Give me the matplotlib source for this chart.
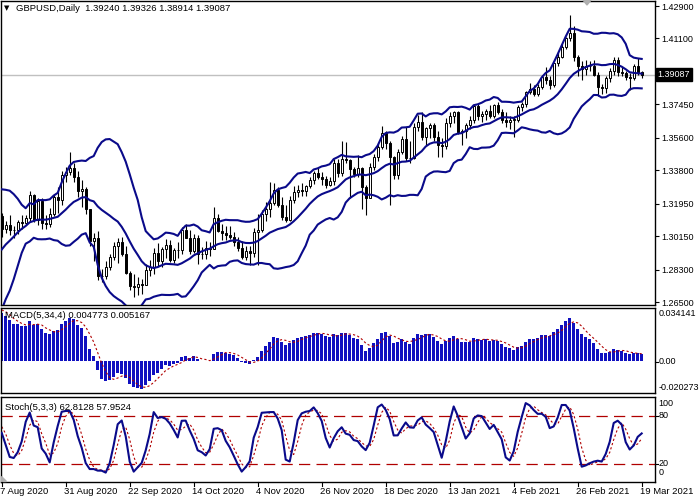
import numpy as np
import matplotlib
matplotlib.use("Agg")
import matplotlib.pyplot as plt

# ── price history before the visible window (needed to warm up the indicators)
warm_close = [1.2110, 1.2235, 1.2245, 1.2230, 1.2200, 1.2165, 1.2200, 1.2335, 1.2270, 1.2330,
              1.2345, 1.2490, 1.2565, 1.2590, 1.2560, 1.2665, 1.2730, 1.2740, 1.2750, 1.2590,
              1.2545, 1.2575, 1.2565, 1.2545, 1.2405, 1.2345, 1.2475, 1.2490, 1.2420, 1.2415,
              1.2335, 1.2315, 1.2395, 1.2475, 1.2475, 1.2485, 1.2475, 1.2545, 1.2605, 1.2610,
              1.2615, 1.2565, 1.2560, 1.2580, 1.2555, 1.2565, 1.2660, 1.2730, 1.2715, 1.2735,
              1.2790, 1.2880, 1.2940, 1.2995, 1.3095, 1.3095, 1.3075, 1.3080, 1.3140, 1.3125]
warm_high = [1.2885, 1.2950, 1.3000, 1.3105, 1.3170, 1.3105, 1.3110, 1.3185, 1.3185]
warm_low = [1.2765, 1.2855, 1.2910, 1.2975, 1.3055, 1.3005, 1.3030, 1.3070, 1.3105]

# ── visible daily bars, 7 Aug 2020 .. 19 Mar 2021
first_open = 1.3125
closes = [1.3055, 1.3074, 1.3049, 1.3048, 1.3094, 1.3087, 1.3118, 1.3243, 1.3103, 1.3211,
          1.3087, 1.3080, 1.3140, 1.3230, 1.3213, 1.3354, 1.3369, 1.3392, 1.3345, 1.3263,
          1.3277, 1.3163, 1.2986, 1.3005, 1.2795, 1.2794, 1.2845, 1.2902, 1.2962, 1.2985,
          1.2917, 1.2813, 1.2739, 1.2735, 1.2751, 1.2746, 1.2828, 1.2842, 1.2920, 1.2875,
          1.2943, 1.2967, 1.2883, 1.2938, 1.2940, 1.3049, 1.3006, 1.2930, 1.3006, 1.2917,
          1.2914, 1.2950, 1.2945, 1.3118, 1.3046, 1.3030, 1.3022, 1.3010, 1.2985, 1.2950,
          1.2900, 1.2935, 1.2920, 1.3040, 1.3050, 1.3140, 1.3165, 1.3200, 1.3270, 1.3190,
          1.3120, 1.3105, 1.3215, 1.3260, 1.3270, 1.3265, 1.3290, 1.3325, 1.3362, 1.3345,
          1.3330, 1.3300, 1.3320, 1.3418, 1.3363, 1.3440, 1.3434, 1.3386, 1.3359, 1.3390,
          1.3288, 1.3228, 1.3400, 1.3455, 1.3510, 1.3584, 1.3530, 1.3455, 1.3355, 1.3482,
          1.3551, 1.3448, 1.3450, 1.3622, 1.3650, 1.3565, 1.3615, 1.3630, 1.3565, 1.3520,
          1.3515, 1.3640, 1.3680, 1.3700, 1.3590, 1.3595, 1.3630, 1.3660, 1.3735, 1.3680,
          1.3690, 1.3710, 1.3680, 1.3740, 1.3705, 1.3660, 1.3650, 1.3660, 1.3660, 1.3733,
          1.3745, 1.3815, 1.3832, 1.3805, 1.3842, 1.3898, 1.3880, 1.3855, 1.3972, 1.4010,
          1.4065, 1.4110, 1.4138, 1.4010, 1.3955, 1.3940, 1.3960, 1.3955, 1.3910, 1.3840,
          1.3835, 1.3890, 1.3930, 1.3990, 1.3925, 1.3920, 1.3895, 1.3890, 1.3955, 1.3924,
          1.39087]
highs = [1.3143, 1.3100, 1.3132, 1.3072, 1.3105, 1.3131, 1.3130, 1.3267, 1.3251, 1.3225,
         1.3227, 1.3134, 1.3170, 1.3248, 1.3285, 1.3375, 1.3400, 1.3482, 1.3420, 1.3378,
         1.3325, 1.3285, 1.3165, 1.3033, 1.3045, 1.2835, 1.2875, 1.2918, 1.2983, 1.3007,
         1.3008, 1.2962, 1.2822, 1.2804, 1.2786, 1.2775, 1.2860, 1.2883, 1.2948, 1.2977,
         1.2955, 1.2998, 1.2993, 1.2949, 1.2981, 1.3063, 1.3082, 1.3051, 1.3026, 1.3022,
         1.2955, 1.2989, 1.2980, 1.3177, 1.3140, 1.3083, 1.3071, 1.3069, 1.3040, 1.3010,
         1.2990, 1.2960, 1.2960, 1.3060, 1.3140, 1.3160, 1.3205, 1.3313, 1.3312, 1.3285,
         1.3230, 1.3190, 1.3240, 1.3290, 1.3300, 1.3310, 1.3300, 1.3340, 1.3375, 1.3390,
         1.3370, 1.3350, 1.3340, 1.3440, 1.3440, 1.3540, 1.3539, 1.3440, 1.3400, 1.3467,
         1.3400, 1.3300, 1.3420, 1.3470, 1.3530, 1.3624, 1.3600, 1.3540, 1.3460, 1.3500,
         1.3570, 1.3620, 1.3540, 1.3640, 1.3686, 1.3700, 1.3620, 1.3640, 1.3640, 1.3600,
         1.3560, 1.3670, 1.3700, 1.3711, 1.3710, 1.3610, 1.3640, 1.3680, 1.3745, 1.3745,
         1.3710, 1.3720, 1.3740, 1.3745, 1.3760, 1.3720, 1.3700, 1.3680, 1.3680, 1.3740,
         1.3760, 1.3820, 1.3866, 1.3850, 1.3860, 1.3910, 1.3950, 1.3900, 1.3975, 1.4035,
         1.4080, 1.4120, 1.4241, 1.4180, 1.4020, 1.3985, 1.3990, 1.3985, 1.3990, 1.3925,
         1.3860, 1.3900, 1.3945, 1.4010, 1.4010, 1.3950, 1.3930, 1.3920, 1.3970, 1.4002,
         1.39326]
lows = [1.3010, 1.3035, 1.3020, 1.3005, 1.3028, 1.3056, 1.3076, 1.3095, 1.3095, 1.3075,
        1.3057, 1.3057, 1.3068, 1.3126, 1.3144, 1.3190, 1.3316, 1.3355, 1.3313, 1.3234,
        1.3174, 1.3138, 1.2960, 1.2875, 1.2770, 1.2762, 1.2780, 1.2830, 1.2880, 1.2866,
        1.2905, 1.2804, 1.2719, 1.2676, 1.2688, 1.2695, 1.2762, 1.2795, 1.2806, 1.2847,
        1.2846, 1.2893, 1.2874, 1.2865, 1.2893, 1.2917, 1.3003, 1.2914, 1.2921, 1.2863,
        1.2891, 1.2890, 1.2905, 1.2943, 1.3036, 1.2992, 1.2996, 1.3000, 1.2960, 1.2930,
        1.2890, 1.2880, 1.2855, 1.2900, 1.2855, 1.3040, 1.3100, 1.3120, 1.3190, 1.3175,
        1.3105, 1.3095, 1.3100, 1.3200, 1.3230, 1.3240, 1.3240, 1.3280, 1.3305, 1.3330,
        1.3300, 1.3280, 1.3290, 1.3300, 1.3340, 1.3350, 1.3420, 1.3226, 1.3340, 1.3340,
        1.3165, 1.3134, 1.3300, 1.3380, 1.3430, 1.3500, 1.3500, 1.3188, 1.3330, 1.3330,
        1.3470, 1.3430, 1.3420, 1.3440, 1.3600, 1.3550, 1.3520, 1.3560, 1.3540, 1.3455,
        1.3455, 1.3500, 1.3620, 1.3640, 1.3580, 1.3520, 1.3560, 1.3610, 1.3640, 1.3660,
        1.3650, 1.3660, 1.3670, 1.3670, 1.3690, 1.3640, 1.3620, 1.3610, 1.3566, 1.3650,
        1.3710, 1.3730, 1.3800, 1.3790, 1.3790, 1.3830, 1.3860, 1.3830, 1.3840, 1.3960,
        1.4000, 1.4050, 1.4095, 1.3985, 1.3900, 1.3880, 1.3910, 1.3930, 1.3900, 1.3790,
        1.3800, 1.3810, 1.3870, 1.3910, 1.3900, 1.3900, 1.3880, 1.3825, 1.3880, 1.3910,
        1.38914]

date_labels = ["7 Aug 2020", "31 Aug 2020", "22 Sep 2020", "14 Oct 2020", "4 Nov 2020",
               "26 Nov 2020", "18 Dec 2020", "13 Jan 2021", "4 Feb 2021", "26 Feb 2021",
               "19 Mar 2021"]
date_bars = [0, 16, 32, 48, 64, 80, 96, 112, 128, 144, 160]
price_ticks = [1.42900, 1.41100, 1.37450, 1.35600, 1.33800, 1.31950, 1.30150, 1.28300, 1.26500]
last_price = 1.39087

# ── indicators (BB 15/2, MACD 5/34/4, Stoch 5/3/3) ────────────────────────────
c_all = np.array(warm_close + closes)
h_all = np.array(warm_high + highs)
l_all = np.array(warm_low + lows)
nw = len(warm_close)
n = len(closes)


def ema(x, p):
    a = 2.0 / (p + 1)
    out = np.empty_like(x)
    out[0] = x[0]
    for i in range(1, len(x)):
        out[i] = a * x[i] + (1 - a) * out[i - 1]
    return out


def sma(x, p):
    out = np.full_like(x, np.nan)
    for i in range(p - 1, len(x)):
        out[i] = x[i - p + 1:i + 1].mean()
    return out


mid = sma(c_all, 15)
sd = np.array([c_all[max(0, i - 14):i + 1].std() for i in range(len(c_all))])
upper, lower = mid + 2 * sd, mid - 2 * sd

macd = ema(c_all, 5) - ema(c_all, 34)
signal = sma(macd, 4)

off = nw - len(warm_high)          # highs/lows only known for the last warm-up bars
cc = c_all[off:]
hh = np.array([h_all[max(0, i - 4):i + 1].max() for i in range(len(h_all))])
ll = np.array([l_all[max(0, i - 4):i + 1].min() for i in range(len(l_all))])
num = cc - ll
den = hh - ll
stk = np.full(len(cc), np.nan)
for i in range(2, len(cc)):
    stk[i] = 100 * num[i - 2:i + 1].sum() / den[i - 2:i + 1].sum()
std_ = sma(np.nan_to_num(stk, nan=50.0), 3)

vis = slice(nw, nw + n)
upper, mid, lower = upper[vis], mid[vis], lower[vis]
macd, signal = macd[vis], signal[vis]
stk, std_ = stk[len(warm_high):], std_[len(warm_high):]

x = np.arange(n)
o = np.array([first_open] + closes[:-1])
c = np.array(closes)

# ── figure in pixel layout ────────────────────────────────────────────────────
plt.rcParams["font.family"] = ["Liberation Sans", "DejaVu Sans"]
W, H = 700, 500
fig = plt.figure(figsize=(7, 5), dpi=100)
FS = 6.5
FT = 6.8
NAVY = "#0a0a8a"
RED = "#b00000"


def px_axes(x0, y0, x1, y1):
    return fig.add_axes([x0 / W, 1 - y1 / H, (x1 - x0) / W, (y1 - y0) / H])


def fx(px):
    return px / W


def fy(py):
    return 1 - py / H


XL = ((0.5 - 1.7) / 4, (655 - 1.7) / 4)
P = 0.00055405
ax = px_axes(0.5, 1, 655, 305)
ax2 = px_axes(0.5, 308, 655, 393)
ax3 = px_axes(0.5, 397, 655, 482)
for a in (ax, ax2, ax3):
    a.set_xlim(*XL)
    a.set_xticks([])
    for s in a.spines.values():
        s.set_color("black")
        s.set_linewidth(1)
    a.tick_params(axis="y", which="both", left=False, right=False, labelleft=False)

# main panel
ax.set_ylim(1.429 - 299 * P, 1.429 + 5 * P)
ax.axhline(last_price, color="#c0c0c0", lw=1, zorder=0)
ax.vlines(x, lows, highs, color="black", lw=0.8, zorder=2)
body = np.abs(c - o)
body = np.where(body < 0.00012, 0.00012, body)
bull = c >= o
ax.bar(x, body, bottom=np.minimum(o, c), width=0.55,
       color=np.where(bull, "white", "black"), edgecolor="black",
       linewidth=0.7, zorder=3)
for band in (upper, mid, lower):
    ax.plot(x, band, color=NAVY, lw=1.5, zorder=4)
ax.yaxis.set_ticks_position("right")
ax.set_yticks(price_ticks)
ax.set_yticklabels([f"{p:.5f}" for p in price_ticks])
ax.tick_params(axis="y", right=True, labelright=True, direction="out",
               length=3, width=0.8, pad=1.5, labelsize=FS)

# MACD panel
ax2.set_ylim(-0.020273, 0.034141)
ax2.bar(x, macd, width=0.7, color="#1010c0", zorder=2)
ax2.plot(x, signal, color=RED, lw=0.8, ls=(0, (2, 2)), zorder=3)

# Stochastic panel
ax3.set_ylim(-2.2, 103.2)
for lv in (80, 20):
    ax3.axhline(lv, color=RED, lw=0.9, ls=(0, (9, 5)), zorder=1)
ax3.plot(x, std_, color=RED, lw=0.8, ls=(0, (2, 2)), zorder=2)
ax3.plot(x, stk, color=NAVY, lw=1.5, zorder=3)

# texts
fig.text(fx(4), fy(8.5), "\u25bc", fontsize=5, va="center", ha="left",
         family="DejaVu Sans")
fig.text(fx(16), fy(8.5), "GBPUSD,Daily  1.39240 1.39326 1.38914 1.39087",
         fontsize=FT, va="center", ha="left")
fig.text(fx(5), fy(316), "MACD(5,34,4) 0.004773 0.005167", fontsize=FT, va="center")
fig.text(fx(5), fy(408), "Stoch(5,3,3) 62.8128 57.9524", fontsize=FT, va="center")
fig.text(fx(657.5), fy(74.7), f"{last_price:.5f}", fontsize=FS, va="center", ha="left",
         color="white", bbox=dict(boxstyle="square,pad=0.2", fc="black", ec="black"))

for lab, yy in [("0.034141", 313), ("0.00", 362), ("-0.020273", 388),
                ("100", 404), ("80", 415.7), ("20", 464), ("0", 472.7)]:
    fig.text(fx(658.5), fy(yy), lab, fontsize=FS, va="center", ha="left")
for yy in (362, 415.7, 464):
    fig.add_artist(plt.Line2D([fx(655), fx(658)], [fy(yy), fy(yy)], color="black", lw=0.8))

for lab, b in zip(date_labels, date_bars):
    px = 1.7 + 4 * b
    fig.add_artist(plt.Line2D([fx(px), fx(px)], [fy(482), fy(486)], color="black", lw=0.8))
    fig.text(fx(px - 2), fy(492), lab, fontsize=FT, va="center", ha="left")

# small grey markers (chart shift at the top, corner of the lowest window)
fig.add_artist(plt.Polygon([[fx(583), fy(0)], [fx(591), fy(0)], [fx(587), fy(5)]],
                           closed=True, color="#b0b0b0"))
fig.add_artist(plt.Polygon([[fx(1), fy(476)], [fx(1), fy(481)], [fx(6), fy(481)]],
                           closed=True, color="#b0b0b0"))

fig.savefig("out.png", dpi=100)
